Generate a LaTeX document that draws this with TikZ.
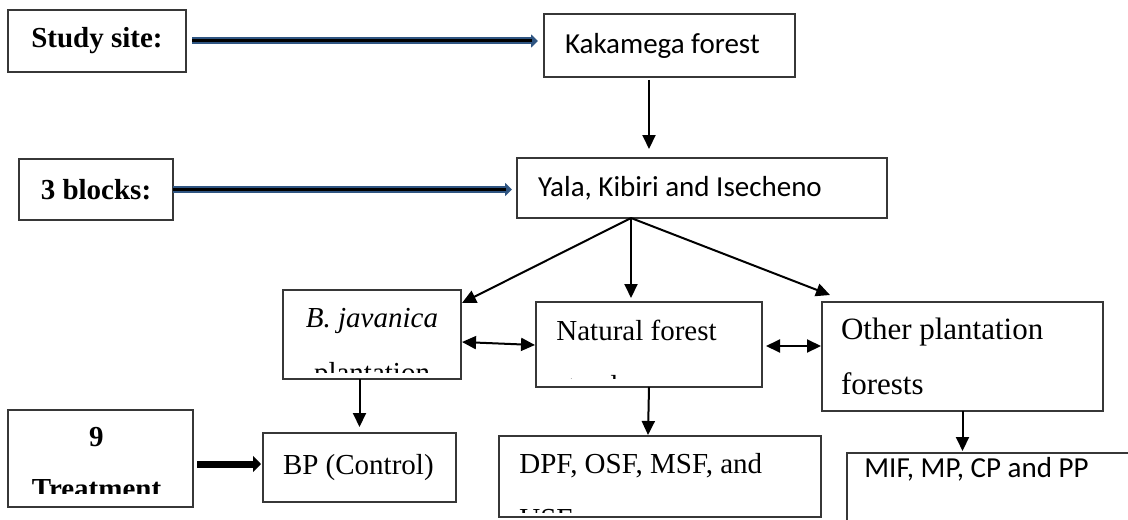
\documentclass[tikz,border=0pt]{standalone}
\usepackage{fontspec}
\setmainfont{Liberation Serif}
\newfontfamily\calibri{Carlito}
\usepackage{tikz}
\usetikzlibrary{arrows.meta}
\usetikzlibrary{calc}

\definecolor{ArrowBlue}{RGB}{47,85,130}
\definecolor{BoxLine}{RGB}{55,55,55}

\newcommand\sertxt{\fontsize{14.5pt}{27.5pt}\selectfont}
\newcommand\sertxtbig{\fontsize{15.5pt}{27.5pt}\selectfont}
\newcommand\boldtxt{\bfseries\fontsize{14.5pt}{26pt}\selectfont}
\newcommand\santxt{\calibri\fontsize{14.5pt}{17pt}\selectfont}

\tikzset{
   box/.style={rectangle, draw=BoxLine, line width=0.8pt, anchor=north west,
      inner sep=0pt, outer sep=0pt},
   leftbox/.style={box, align=flush left},
   txt/.style={inner sep=0pt},
   arrow/.style={line width=1pt, -{Triangle[length=7pt, width=6.5pt]}},
   twoway/.style={line width=1pt,
      {Triangle[length=7pt, width=6.5pt]}-{Triangle[length=7pt, width=6.5pt]}},
   fatarrow/.style={line width=3.5pt, -{Triangle[length=4pt, width=8pt]}},
   bluearrow/.style={line width=3.5pt, draw=ArrowBlue,
      -{Triangle[length=3.5pt, width=6.5pt]}},
   bluecore/.style={line width=1.5pt, draw=black}
}

\begin{document}
\begin{tikzpicture}[x=0.5pt, y=-0.5pt]
      \useasboundingbox (0,0) rectangle (1128,519);

      \node (site) at (8,10) [box, minimum width=89pt, minimum height=31pt,
         font=\boldtxt] {Study site:};
      \node (kaka) at (544,14) [leftbox, text width=104.5pt, inner xsep=10.5pt,
         minimum height=31.5pt, font=\santxt] {Kakamega forest};
      \node (blocks) at (19,159) [box, minimum width=77pt, minimum height=30.5pt,
         font=\boldtxt] {3 blocks:};
      \node (yala) at (517,158) [leftbox, text width=164pt, inner xsep=10.5pt,
         minimum height=30pt, font=\santxt] {Yala, Kibiri and Isecheno};
      \node (bjav) at (283,290) [box, minimum width=89pt, minimum height=44.5pt] {};
      \node (nat) at (536,302) [box, minimum width=113pt, minimum height=42.5pt] {};
      \node (other) at (822,302) [leftbox, text width=121.5pt, inner xsep=9.5pt,
         minimum height=54.5pt, font=\sertxtbig] {Other plantation\\forests};
      \node (bp) at (263,433) [leftbox, text width=76.5pt, inner xsep=10pt,
         minimum height=34.5pt, font=\sertxt] {BP (Control)};
      \node (treat) at (8,410) [box, minimum width=92.5pt, minimum height=48.5pt] {};
      \node (dpf) at (499,436) [box, minimum width=161pt, minimum height=40.5pt] {};
      \node (mif) at (847,453) [box, minimum width=150pt, minimum height=45pt] {};

      \begin{scope}
         \clip (bjav.north west) rectangle ($(bjav.south east)+(0,-7)$);
         \node (bjavtxt) at ($(bjav.north)+(0,18)$) [txt, anchor=north,
            align=center, font=\sertxt] {\textit{B. javanica}\\plantation};
      \end{scope}
      \begin{scope}
         \clip (nat.north west) rectangle ($(nat.south east)+(0,-9)$);
         \node (nattxt) at ($(nat.north west)+(20,18)$) [txt, anchor=north west,
            align=flush left, font=\sertxt] {Natural forest\\stands};
      \end{scope}
      \begin{scope}
         \clip (treat.north west) rectangle ($(treat.south east)+(0,-14)$);
         \node (treattxt) at ($(treat.north)+(-4,17)$) [txt, anchor=north,
            align=center, font=\boldtxt] {9\\Treatment};
      \end{scope}
      \begin{scope}
         \clip (dpf.north west) rectangle ($(dpf.south east)+(0,-5)$);
         \node (dpftxt) at ($(dpf.north west)+(20,17)$) [txt, anchor=north west,
            align=flush left, font=\sertxt] {DPF, OSF, MSF, and\\USF};
      \end{scope}
      \node (miftxt) at ($(mif.north west)+(17,4)$) [txt, anchor=north west,
         font=\santxt] {MIF, MP, CP and PP};

      \draw [bluearrow, shorten <=3pt, shorten >=3pt] (site.east) -- (site.east -| kaka.west);
      \draw [bluecore, shorten <=3pt, shorten >=6pt] (site.east) -- (site.east -| kaka.west);
      \draw [bluearrow, shorten >=2.5pt] (blocks.east) -- (blocks.east -| yala.west);
      \draw [bluecore, shorten >=5.5pt] (blocks.east) -- (blocks.east -| yala.west);

      \coordinate (kakadrop) at ($(kaka.south west)+(105,0)$);
      \draw [arrow, shorten <=1.5pt, shorten >=4.5pt] (kakadrop) -- (kakadrop |- yala.north);

      \coordinate (fan) at ($(yala.south west)+(114,0)$);
      \draw [arrow] (fan) -- ($(bjav.north east)+(1,13)$);
      \draw [arrow, shorten >=2pt] (fan) -- ($(nat.north west)+(95,0)$);
      \draw [arrow] (fan) -- ($(other.north west)+(8,-7)$);

      \draw [twoway] ($(bjav.north east)+(1,52)$) -- ($(nat.north west)+(-1,43)$);
      \draw [twoway] ($(nat.north east)+(4,44)$) -- ($(other.north west)+(-1,44)$);

      \draw [arrow, shorten >=3pt] (bp.north |- bjav.south) -- (bp.north);
      \draw [arrow] (nat.south) -- ($(dpf.north west)+(149,-1)$);
      \draw [arrow, shorten >=1pt] (other.south) -- (other.south |- mif.north);
      \draw [fatarrow] ($(treat.north east)+(4,54)$) -- ($(bp.north west)+(-2,31)$);
   \end{tikzpicture}
\end{document}
